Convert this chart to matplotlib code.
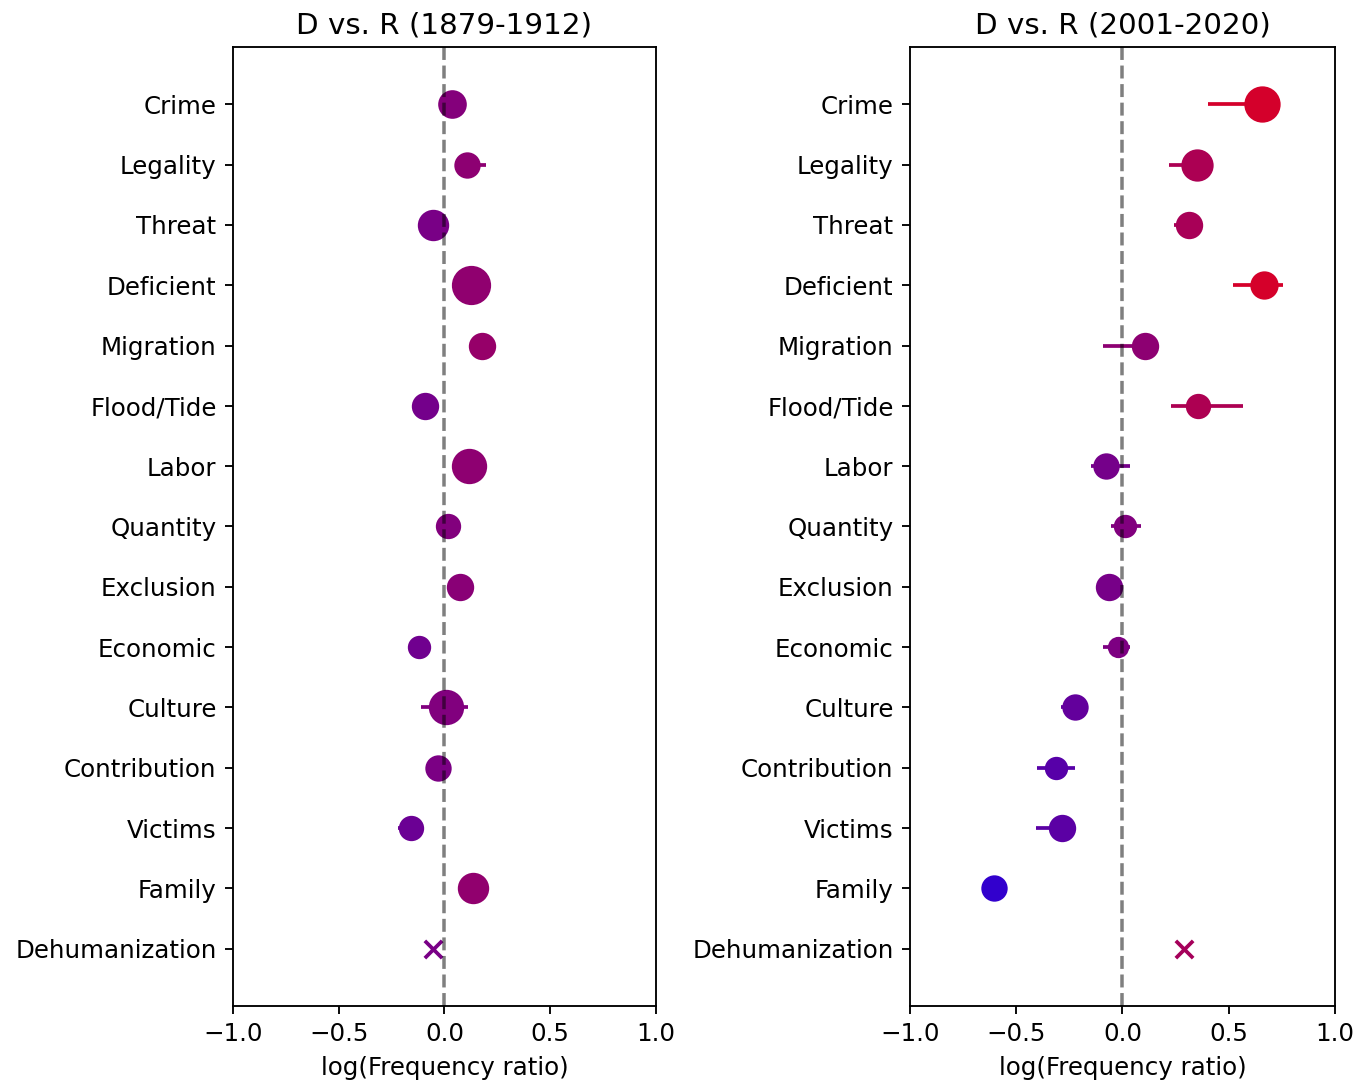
import numpy as np
import matplotlib
matplotlib.use("Agg")
import matplotlib.pyplot as plt
from matplotlib.colors import LinearSegmentedColormap

categories = ["Crime", "Legality", "Threat", "Deficient", "Migration", "Flood/Tide",
              "Labor", "Quantity", "Exclusion", "Economic", "Culture", "Contribution",
              "Victims", "Family", "Dehumanization"]

titles = ["D vs. R (1879-1912)", "D vs. R (2001-2020)"]

# Panel 1 (1879-1912)
p1_val = [0.034, 0.107, -0.054, 0.125, 0.176, -0.092, 0.117, 0.017, 0.075, -0.119,
          0.009, -0.032, -0.160, 0.135, -0.053]
p1_lo = [0.004, 0.060, -0.094, 0.075, 0.136, -0.132, 0.067, -0.023, 0.035, -0.149,
         -0.113, -0.072, -0.220, 0.095, None]
p1_hi = [0.064, 0.196, -0.014, 0.175, 0.216, -0.052, 0.167, 0.057, 0.115, -0.089,
         0.113, 0.008, -0.120, 0.175, None]
p1_size = [127, 106, 155, 250, 115, 115, 200, 97, 115, 81, 200, 106, 97, 155, None]

# Panel 2 (2001-2020)
p2_val = [0.658, 0.349, 0.314, 0.666, 0.106, 0.357, -0.079, 0.012, -0.064, -0.020,
          -0.222, -0.313, -0.286, -0.606, 0.291]
p2_lo = [0.404, 0.219, 0.244, 0.520, -0.090, 0.227, -0.150, -0.056, -0.121, -0.090,
         -0.291, -0.401, -0.408, -0.640, None]
p2_hi = [0.700, 0.400, 0.377, 0.754, 0.140, 0.569, 0.035, 0.086, -0.030, 0.035,
         -0.190, -0.224, -0.260, -0.570, None]
p2_size = [212, 165, 115, 124, 115, 97, 106, 81, 115, 66, 106, 81, 115, 106, None]

panels = [(p1_val, p1_lo, p1_hi, p1_size), (p2_val, p2_lo, p2_hi, p2_size)]

cmap = LinearSegmentedColormap.from_list("br", [(0, 0, 1), (1, 0, 0)])

plt.rcParams["font.size"] = 10.5

dpi = 168
fig = plt.figure(figsize=(1354 / dpi, 1084 / dpi), dpi=dpi)
axes = [fig.add_axes([0.172, 0.072, 0.3125, 0.8846]),
        fig.add_axes([0.672, 0.072, 0.314, 0.8846])]

for ax, title, (vals, los, his, sizes) in zip(axes, titles, panels):
    for i, cat in enumerate(categories):
        v = vals[i]
        c = cmap((v + 1) / 2)
        if sizes[i] is None:
            ax.scatter([v], [i], marker="x", s=55, color=c, linewidths=1.6, zorder=3)
        else:
            ax.plot([los[i], his[i]], [i, i], color=c, lw=1.6, zorder=2,
                    solid_capstyle="butt")
            ax.scatter([v], [i], s=sizes[i], color=c, zorder=3)
    ax.axvline(0, color="k", alpha=0.5, linestyle="--", lw=1.5, zorder=4)
    ax.set_xlim(-1, 1)
    ax.set_ylim(14.95, -0.95)
    ax.set_yticks(range(len(categories)))
    ax.set_yticklabels(categories)
    ax.set_xticks([-1.0, -0.5, 0.0, 0.5, 1.0])
    ax.set_xlabel("log(Frequency ratio)")
    ax.set_title(title, fontsize=12.6)

fig.savefig("out.png", dpi=dpi)
